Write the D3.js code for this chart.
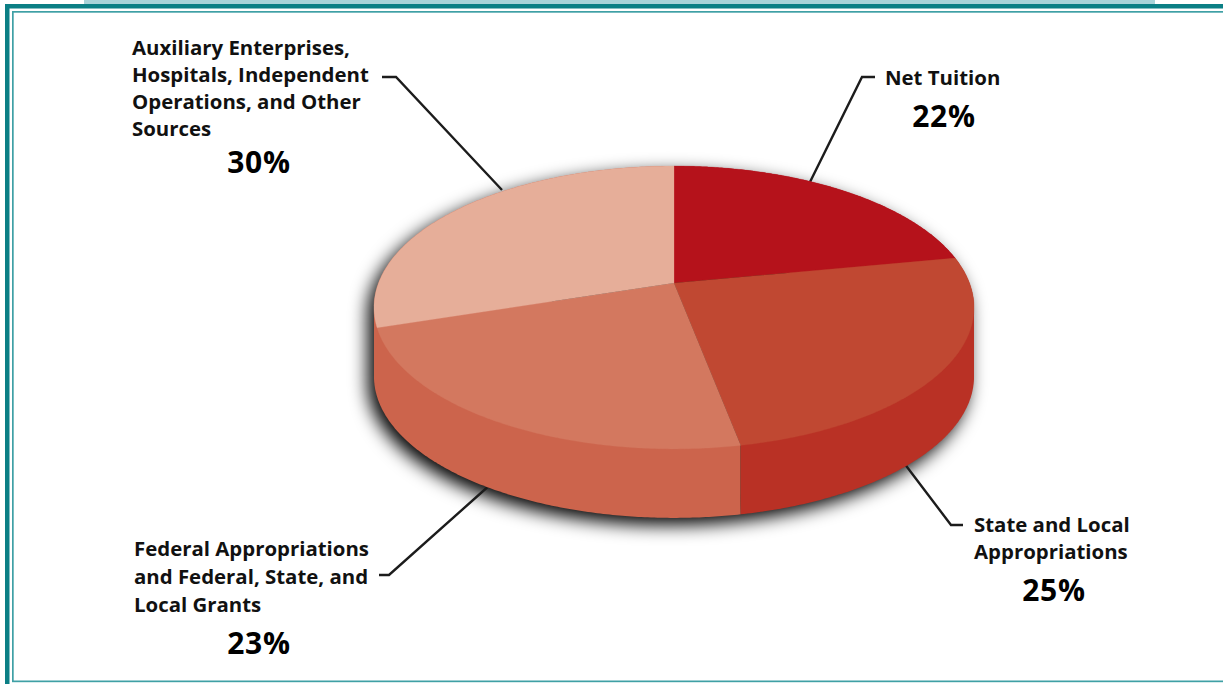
<!DOCTYPE html>
<html><head><meta charset="utf-8">
<script src="https://cdn.jsdelivr.net/npm/d3@7/dist/d3.min.js"></script>
<style>html,body{margin:0;padding:0;background:#fff;overflow:hidden}svg{display:block}
text{font-family:"Open Sans",sans-serif;fill:#111}</style></head>
<body><svg id="c" width="1223" height="684"></svg>
<script>
const categories = ["Net Tuition","State and Local Appropriations","Federal Appropriations and Federal, State, and Local Grants","Auxiliary Enterprises, Hospitals, Independent Operations, and Other Sources"];
const values = [22,25,23,30];
const topColors = ["#B5121B","#C04832","#D3785F","#E6AE99"];
const sideColors = ["#B5121B","#B93125","#CC644C","#CC644C"];
const labelLines = [["Net Tuition"],["State and Local","Appropriations"],["Federal Appropriations","and Federal, State, and","Local Grants"],["Auxiliary Enterprises,","Hospitals, Independent","Operations, and Other","Sources"]];
const labelX = [885,974,134,132];
const labelY = [85,532,556,55];
const lineStep = [27,27,28,27];
const pctX = [944,1054,259,259];
const pctY = [127,601,654,173];
const leaders = [
  [[810,182],[862,77],[875,77]],
  [[904,463],[951,525],[963,525]],
  [[491,484],[389,575],[379,575]],
  [[502,190],[396,77],[382,77]]
];

const svg = d3.select("#c");
const W=1223,H=684;
const teal="#0B7F85", tealLight="#3FA0A5";
svg.append("rect").attr("x",84).attr("y",0).attr("width",1071).attr("height",4).attr("fill","#A9D3D9");
svg.append("rect").attr("x",5).attr("y",4).attr("width",W-5).attr("height",4.5).attr("fill",teal);
svg.append("rect").attr("x",5).attr("y",4).attr("width",4.5).attr("height",H-4).attr("fill",teal);
svg.append("rect").attr("x",12).attr("y",11).attr("width",W-12).attr("height",1.7).attr("fill",tealLight);
svg.append("rect").attr("x",12).attr("y",11).attr("width",1.7).attr("height",671).attr("fill",tealLight);
svg.append("rect").attr("x",12).attr("y",680.5).attr("width",W-12).attr("height",1.7).attr("fill",tealLight);

const cx=674, cy=283, R=295.5, S=137.2, k=0.173, depth=69;
const proj=(a,dy=0)=>{const u=Math.sin(a),v=Math.cos(a),w=1+k*v;return [cx+R*u/w, cy-S*v/w+dy];};
const arcs=d3.pie().sort(null).startAngle(0).endAngle(2*Math.PI)(values);
const line=d3.line();
const sample=(a,b,dy=0,n=160)=>d3.range(0,n+1).map(i=>proj(a+(b-a)*i/n,dy));

svg.append("defs").append("filter").attr("id","sh")
  .attr("filterUnits","userSpaceOnUse").attr("x",250).attr("y",60).attr("width",850).attr("height",580)
  .append("feGaussianBlur").attr("stdDeviation",9);

const hull=(a,b,n)=>d3.polygonHull(sample(a,b,0,n).concat(sample(a,b,depth,n)));
svg.append("path").attr("d",line(hull(0,2*Math.PI,360))+"Z").attr("fill","#000")
  .attr("transform","translate(-6,7)").attr("filter","url(#sh)");

svg.append("g").selectAll("path").data(leaders).join("path").attr("d",d=>line(d))
  .attr("fill","none").attr("stroke","#1c1c1c").attr("stroke-width",2.4);

// walls: the hull of each slice's swept rim; the top faces cover the inner part.
// Painted back to front.
const order=[0,3,2,1];
svg.append("g").selectAll("path").data(order).join("path")
  .attr("d",i=>line(hull(arcs[i].startAngle,arcs[i].endAngle,160))+"Z")
  .attr("fill",i=>sideColors[i]);

svg.append("g").selectAll("path").data(arcs).join("path")
  .attr("d",d=>line([[cx,cy]].concat(sample(d.startAngle,d.endAngle)))+"Z")
  .attr("fill",(d,i)=>topColors[i]).attr("stroke",(d,i)=>topColors[i]).attr("stroke-width",0.3);

categories.forEach((c,i)=>{
  const t=svg.append("text").attr("font-size",20.4).attr("font-weight",700);
  labelLines[i].forEach((l,j)=>t.append("tspan").attr("x",labelX[i]).attr("y",labelY[i]+j*lineStep[i]).text(l));
  svg.append("text").attr("x",pctX[i]).attr("y",pctY[i]).attr("text-anchor","middle")
    .attr("font-size",30).attr("font-weight",700).attr("letter-spacing",0.8).style("fill","#000").text(values[i]+"%");
});
</script></body></html>
